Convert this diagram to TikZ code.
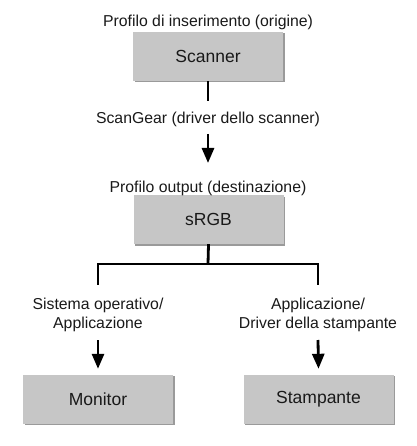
\documentclass[tikz,border=0pt]{standalone}
\usepackage{fontspec}
\setmainfont{Liberation Sans}
\usetikzlibrary{arrows.meta}
\definecolor{boxfill}{HTML}{C6C6C6}
\definecolor{boxshade}{HTML}{9A9A9A}
\tikzset{
  devbox/.style={minimum width=150pt, minimum height=49pt, inner sep=0pt, fill=boxfill,
    font=\fontsize{17.5}{20}\selectfont, text=black!90,
    preaction={fill=boxshade, transform canvas={shift={(1.5pt,-1.5pt)}}}},
  lbl/.style={font=\fontsize{15.8}{19}\selectfont, text=black!90, inner sep=0pt, align=center},
  conn/.style={line width=2.8pt, draw=black},
  arr/.style={conn, -{Triangle[length=15pt,width=12pt]}}
}
\begin{document}
\begin{tikzpicture}[x=1pt,y=-1pt]
\useasboundingbox (0,0) rectangle (416,446);
% boxes
\node[devbox] (scanner) at (208,56.5) {Scanner};
\node[devbox] (srgb) at (208.5,219.5) {sRGB};
\node[devbox] (monitor) at (98,399) {Monitor};
\node[devbox] (stamp) at (318.5,399) {Stampante};
% labels
\node[lbl, anchor=base] (t1) at (208,27) {Profilo di inserimento (origine)};
\node[lbl, anchor=base] (sg) at (208,124) {ScanGear (driver dello scanner)};
\node[lbl, anchor=base] (t2) at (208,193) {Profilo output (destinazione)};
\node[lbl, anchor=base] (l1) at (98,328) {Sistema operativo/\\Applicazione};
\node[lbl, anchor=base] (l2) at (318,328) {Applicazione/\\Driver della stampante};
% connector coordinates
\coordinate (c1) at (208,101);
\coordinate (a1s) at (208,134);
\coordinate (a1e) at (208,163);
\coordinate (j) at (208,264);
\coordinate (jl) at (98,264);
\coordinate (jr) at (318,264);
\coordinate (dl) at (98,284);
\coordinate (dr) at (318,284);
\coordinate (a2s) at (98,340);
\coordinate (a3s) at (318,340);
% connectors
\draw[conn] (scanner.south) -- (c1);
\draw[arr] (a1s) -- (a1e);
\draw[conn] (srgb.south) -- (j);
\draw[conn, line cap=rect] (dl) -- (jl) -- (jr) -- (dr);
\draw[arr] (a2s) -- ([yshift=5.5pt]monitor.north);
\draw[arr] (a3s) -- ([yshift=5.5pt]stamp.north);
\end{tikzpicture}
\end{document}
